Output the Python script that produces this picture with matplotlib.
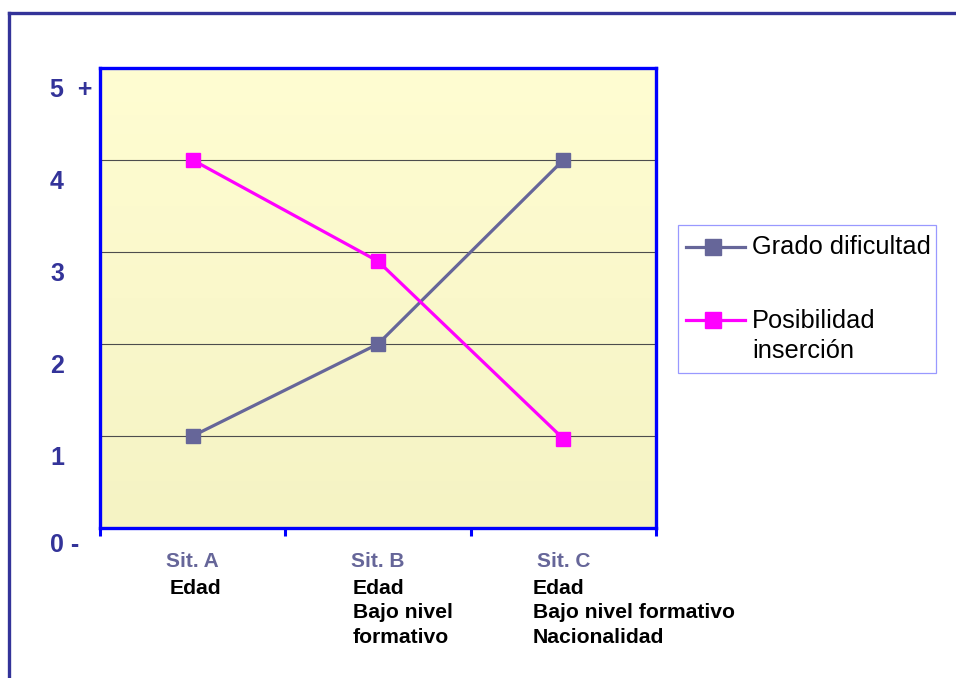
import numpy as np
import matplotlib
matplotlib.use("Agg")
from matplotlib import pyplot as plt
from matplotlib.colors import LinearSegmentedColormap
from matplotlib.lines import Line2D
from matplotlib.patches import Rectangle

# data
categories = ["Sit. A", "Sit. B", "Sit. C"]
details = ["Edad", "Edad\nBajo nivel\nformativo", "Edad\nBajo nivel formativo\nNacionalidad"]
grado_dificultad = [1.0, 2.0, 4.0]
posibilidad_insercion = [4.0, 2.9, 0.97]
y_values = [0, 1, 2, 3, 4, 5]
y_labels = ["0 -", "1", "2", "3", "4", "5  +"]
series_names = ["Grado dificultad", "Posibilidad\ninserción"]
series_colors = ["#666699", "#FF00FF"]

plt.rcParams['font.family'] = ['Liberation Sans', 'DejaVu Sans']

W, H = 956, 678


def fx(px):
    return px / W


def fy(py):
    return 1 - py / H


fig = plt.figure(figsize=(W / 100, H / 100), dpi=100)
ax = fig.add_axes([fx(100), fy(528), 556 / W, 460 / H])

x = np.arange(len(categories)) + 0.5
ax.set_xlim(0, 3)
ax.set_ylim(0, 5)

# yellow gradient background
cmap = LinearSegmentedColormap.from_list("bg", ["#F5F3C4", "#FFFDD2"])
grad = np.linspace(0, 1, 256).reshape(-1, 1)
ax.imshow(grad, extent=[0, 3, 0, 5], origin="lower", aspect="auto", cmap=cmap, zorder=0)

# gridlines
for v in y_values[1:-1]:
    ax.axhline(v, color="#4d4d4d", lw=0.8, zorder=1)

for vals, col, name in zip([grado_dificultad, posibilidad_insercion], series_colors, series_names):
    ax.plot(x, vals, color=col, lw=2.3, marker="s", ms=10, label=name, zorder=3)

for s in ax.spines.values():
    s.set_color("#0000FF")
    s.set_linewidth(2.4)

ax.set_yticks([])
ax.set_xticks(x)
ax.set_xticklabels(categories, fontsize=15, fontweight="bold", color="#666699")
ax.tick_params(axis="x", which="major", length=0, pad=17)
ax.set_xticks(np.arange(0, 4), minor=True)
ax.tick_params(axis="x", which="minor", length=6, width=2.2, color="#0000FF")

# y labels, placed a bit below each level
for v, lab in zip(y_values, y_labels):
    off = 0.18 if v == 0 else 0.235
    ax.text(-50 / 556 * 3, v - off, lab, ha="left", va="center", fontsize=18,
            fontweight="bold", color="#333399", clip_on=False)

# detail text under categories
det_x = [0.378, 1.365, 2.336]
for dx, d in zip(det_x, details):
    ax.text(dx, -0.55, d, ha="left", va="top", fontsize=15.2, fontweight="bold",
            color="black", linespacing=1.37, clip_on=False)

# legend box drawn by hand
fig.add_artist(Rectangle((fx(678), fy(373)), fx(936) - fx(678), fy(225) - fy(373),
                         transform=fig.transFigure, facecolor="white",
                         edgecolor="#9999FF", lw=0.9))
for yy, col in zip([247, 320], series_colors):
    fig.add_artist(Line2D([fx(686), fx(745)], [fy(yy), fy(yy)], transform=fig.transFigure,
                          color=col, lw=2.3))
    fig.add_artist(Line2D([fx(713)], [fy(yy)], transform=fig.transFigure, color=col,
                          marker="s", ms=11))
fig.text(fx(752), fy(247), series_names[0], ha="left", va="center", fontsize=18.3)
fig.text(fx(752), fy(336), series_names[1], ha="left", va="center", fontsize=18.3,
         linespacing=1.36)

# outer frame
fig.add_artist(Line2D([fx(9), fx(9)], [0, fy(13)], transform=fig.transFigure,
                      color="#333399", lw=2.4))
fig.add_artist(Line2D([fx(9), 1], [fy(13), fy(13)], transform=fig.transFigure,
                      color="#333399", lw=2.4))

fig.savefig("out.png", dpi=100)
